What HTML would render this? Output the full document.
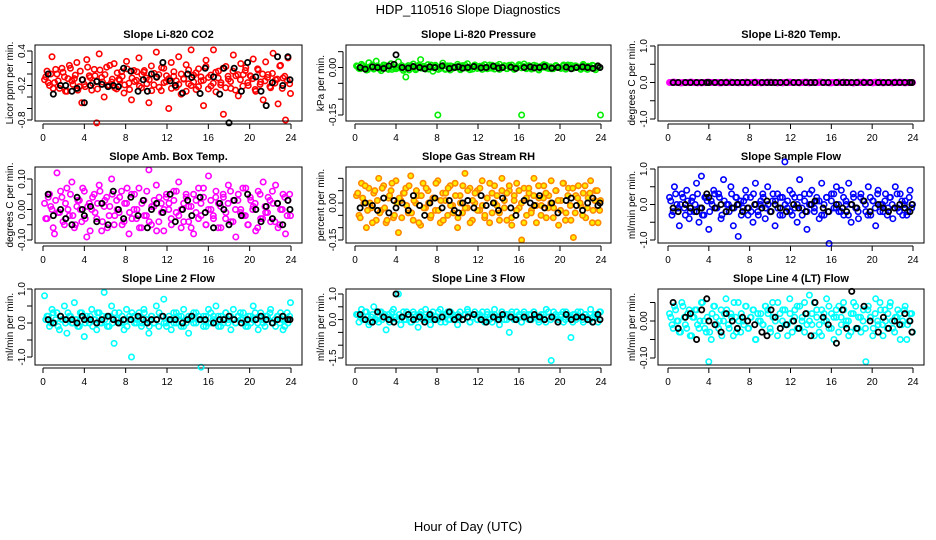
<!DOCTYPE html>
<html><head><meta charset="utf-8"><style>
body{margin:0;background:#fff;}
svg{display:block;font-family:"Liberation Sans",sans-serif;}
</style></head><body>
<svg id="chart" width="936" height="540">
<text x="468" y="14" text-anchor="middle" font-size="13">HDP_110516  Slope Diagnostics</text>
<text x="468" y="531" text-anchor="middle" font-size="13">Hour of Day (UTC)</text>
</svg>
<script>
const blackHours=[0.5,1.0,1.7,2.2,2.8,3.3,3.8,4.0,4.6,5.2,5.7,6.3,6.8,7.3,7.8,8.5,9.2,9.7,10.1,10.5,11.0,11.6,12.3,12.8,13.5,14.0,14.4,15.2,15.7,16.5,17.1,17.5,18.0,18.5,19.2,19.8,20.6,21.1,21.6,22.2,22.7,23.2,23.7,23.9];
const xTicks=[0,4,8,12,16,20,24];
// Panel 1 CO2 (units 0.01)
const co2Vals=[-10,5,-20,30,-15,0,-25,10,-5,-30,15,-12,-8,20,-22,-50,-18,25,-3,-28,8,-85,35,-6,-40,12,-20,-14,18,-26,-9,4,-33,22,-16,-45,6,-11,28,-24,3,-7,-50,14,-19,38,-1,-29,10,-13,-60,20,-4,-23,30,-35,-8,16,-17,42,-2,-27,9,-12,-55,24,-6,-21,42,-31,5,-15,-70,13,-9,-25,33,-3,-38,18,-1,11,-20,-4,26,-30,7,-14,-45,21,-1,-24,36,-10,-52,15,-7,-80,28,-34];
const co2Vals2=[-5,-15,0,-25,8,-12,-20,3,-30,-8,10,-18,-2,-28,5,-10,-22,12,-6,-16,-3,-26,7,-14,-1,-20,15,-9,-24,2,-11,-4,-19,9,-27,-7,-13,4,-21,-1,6,-17,-10,-29,1,-6,-23,11,-15,-3,-8,-25,4,-12,-18,0,-9,-30,7,-20,-14,2,-22,-5,-11,13,-26,-2,-16,3,-7,-19,10,-24,-4,-13,5,-28,-1,-10,-21,6,-15,-3,-8,-27,9,-18,0,-12,-6,-22,1,-16,-9,14,-25,-4,-11,-17];
const co2Black=[0,-35,-20,-20,-30,-25,-10,-50,-20,-13,-18,-22,-20,-22,10,5,-30,-10,-30,0,-5,20,-12,-20,-33,0,-6,-34,10,-5,-35,10,-85,10,-30,20,-5,-30,-55,-15,30,-20,30,-10];
// Panel 2 Pressure (units 0.001)
const presVals=[5,-3,10,0,-8,15,2,-5,20,-2,-10,8,3,-6,12,0,-4,18,1,-9,-30,6,-2,11,-7,4,25,-1,-5,9,2,-12,7,-150,-3,14,-6,5,-8,3,0,10,-4,6,-1,12,-7,2,8,-3,4,-6,9,1,-2,7,-5,3,10,-1,6,-4,2,8,-6,0,5,-150,11,-2,3,-5,7,1,-8,4,9,-1,2,-4,0,6,0,-3,8,-5,3,7,-2,5,1,-6,10,-3,4,-1,6,-7,2,-150];
const presVals2=[3,-4,6,0,-7,2,8,-2,5,-5,1,7,-3,4,-6,9,0,-1,6,-4,2,-8,5,1,-3,7,-2,4,0,-5,8,-1,3,-6,2,6,-4,1,5,-2,0,4,-7,3,7,-3,1,-5,6,2,-1,5,0,-4,8,-2,3,6,-6,1,4,-3,7,0,-5,2,9,-1,3,-4,6,0,-2,5,-6,3,1,7,-3,2,-4,6,0,-1,4,-5,8,2,-2,5,1,-3,6,0,-6,3,7,-2,4,0];
const presBlack=[0,-5,2,0,-3,5,10,40,0,-2,3,0,-4,2,0,5,-3,0,2,-2,0,3,-1,0,4,-2,0,1,-3,0,2,-1,0,3,-2,0,1,-4,0,2,0,-3,5,0];
// Panel 3 Temp (units 0.01)
const tempVals=[0,0,1,0,0,-1,0,0,0,1,0,0,0,-1,0,0,1,0,0,0,0,-1,0,0,0,1,0,0,0,0,0,0,-1,0,0,1,0,0,0,0,1,0,0,0,-1,0,0,0,1,0,0,0,0,-1,0,0,1,0,0,0,0,0,1,0,0,-1,0,0,0,0,0,1,0,0,0,-1,0,0,0,1,0,0,0,0,1,0,0,-1,0,0,0,0,1,0,0,0,-1,0,0,0];
const tempVals2=[0,1,0,0,-1,0,0,0,1,0,0,-1,0,0,0,1,0,0,0,0,-1,0,0,1,0,0,0,0,-1,0,0,1,0,0,0,0,0,-1,0,0,0,1,0,0,0,0,-1,0,0,1,0,0,0,0,0,1,0,-1,0,0,0,1,0,0,0,0,-1,0,0,1,0,0,0,0,0,-1,0,1,0,0,0,0,0,-1,0,0,1,0,0,0,0,-1,0,0,1,0,0,0,0,0];
const tempBlack=[0,0,0,0,0,0,0,0,0,0,0,0,0,0,0,0,0,0,0,0,0,0,0,0,0,0,0,0,0,0,0,0,0,0,0,0,0,0,0,0,0,0,0,0];
// Panel 4 Amb box temp (units 0.01)
const ambVals=[2,-3,5,0,-8,12,-1,4,-5,7,-2,9,-6,1,3,-4,6,-9,2,0,5,-3,8,-7,1,4,-2,10,-5,3,-1,6,-4,2,-8,5,0,-3,7,-6,3,-2,13,-5,1,8,-4,2,-7,4,0,-3,6,-1,9,-6,2,5,-4,1,-8,3,7,-2,4,-5,11,0,-3,6,2,-6,4,-1,8,-4,3,-9,5,0,-2,7,-5,3,1,-7,6,-3,9,-1,4,-4,2,8,-6,0,5,-8,3,-2];
const ambVals2=[-3,4,1,-6,3,-1,6,-4,2,0,5,-2,-5,3,0,7,-3,1,-7,4,-1,2,6,-4,3,-6,1,5,-2,0,4,-5,2,7,-1,-3,5,0,-6,2,-2,6,-4,1,3,-7,4,-1,0,5,2,-5,3,6,-2,0,-4,4,1,-6,5,-1,-3,2,7,-5,0,3,-2,4,-6,1,5,-3,2,6,-4,0,3,-1,7,-2,-5,4,0,2,-6,5,-3,1,-1,3,6,-4,2,-5,0,4,-2,5];
const ambBlack=[5,-2,0,-3,-5,4,0,-2,1,-4,2,-5,6,0,-3,4,-2,3,-6,0,2,-1,5,-4,0,3,-2,4,-1,-6,2,0,-5,3,-2,5,0,-4,1,-3,2,-5,3,0];
// Panel 5 RH (units 0.01)
const rhVals=[3,-5,8,0,-10,6,-2,4,-7,10,-3,7,-8,2,5,-6,9,-12,1,4,6,-4,11,-7,0,3,-9,8,-2,5,-6,2,-3,9,-8,4,1,-5,7,-1,8,-10,3,-4,12,-2,6,-7,0,5,-3,9,-6,2,-8,4,7,-1,-4,10,1,-7,5,-9,3,8,-2,-15,6,-5,4,-3,10,-8,2,-1,7,-6,3,9,-2,5,-9,1,8,-4,6,-7,-14,3,7,-1,4,-6,2,9,-3,5,-8,1];
const rhVals2=[4,-6,2,7,-3,0,-8,5,1,-4,6,-2,-7,3,8,-5,0,2,-6,4,-1,7,-4,1,5,-8,3,-2,6,0,-5,2,8,-3,1,-7,4,6,-1,-4,3,-6,0,7,-2,5,-8,1,4,-3,6,-1,-5,2,8,-4,0,3,-7,5,-2,4,7,-6,1,-3,5,0,-8,2,6,-4,3,-1,7,-5,2,4,-2,0,-6,5,1,-3,8,-7,3,-1,6,-4,2,0,-5,7,-2,4,-8,1,5,-3];
const rhBlack=[-2,0,-1,-3,2,-4,1,-2,0,-3,3,-1,-5,0,2,-2,1,-3,-4,0,1,-2,3,-1,0,-3,2,-2,-5,1,0,-1,3,-2,0,-4,1,2,-1,-3,0,2,-1,0];
// Panel 6 Sample flow (units 0.1)
const sfVals=[2,-3,5,0,-6,3,-1,4,-4,1,-2,6,-5,8,-3,2,-7,1,4,-1,3,-4,7,-2,0,5,-6,2,-9,1,-1,4,-3,2,-5,6,-2,0,3,-4,5,-2,1,-6,3,-3,2,12,-1,4,-3,2,-5,7,-1,3,-7,0,4,-2,1,-4,6,-3,2,-11,3,-1,5,-2,4,-3,0,6,-5,2,-1,-4,3,1,-2,5,-3,1,-6,4,0,-2,3,-1,2,-4,5,-1,3,-3,1,-2,4,0];
const sfVals2=[1,-2,3,-1,0,2,-3,1,-2,2,0,3,-1,-3,2,1,-2,0,3,-1,2,-3,1,0,-2,3,-1,2,0,-3,1,2,-1,-2,3,0,-3,1,2,-1,0,-2,3,1,-1,2,-3,0,1,-2,3,-1,0,2,-3,1,-2,3,0,-1,2,1,-3,0,2,-2,1,3,-1,0,-2,2,1,-3,0,3,-1,-2,2,1,0,-3,2,1,-1,3,-2,0,1,-3,2,0,-1,3,-2,1,0,-3,2,-1];
const sfBlack=[-1,-2,0,-1,-2,-1,3,2,-1,0,-2,-1,0,-2,-1,0,-1,1,-2,0,-1,-2,0,-1,-2,0,1,-1,-2,0,-1,-2,0,-1,1,-2,0,-1,-2,-1,0,-1,-2,0];
// Panel 7 Line 2 flow (units 0.1)
const l2Vals=[8,2,-1,4,0,3,-2,1,5,-3,2,0,6,1,-1,3,-4,2,0,4,1,-2,3,0,9,2,-1,5,-6,1,3,0,-2,4,1,-10,2,0,3,-1,4,1,-3,2,0,5,-1,2,7,0,1,-2,3,0,2,-1,4,1,-3,2,0,3,1,-13,2,-1,4,0,2,5,-1,2,0,3,1,-2,4,0,2,1,3,-1,2,0,5,1,-2,3,0,2,1,4,0,-1,2,3,-2,1,0,6];
const l2Vals2=[1,2,0,3,1,-1,2,1,0,3,2,0,1,-1,3,2,0,1,2,-1,1,3,0,2,1,-1,2,0,3,1,0,2,1,-1,2,3,0,1,2,0,3,1,-1,2,0,1,3,2,0,-1,2,1,0,3,1,2,-1,0,2,1,3,0,2,1,-1,2,0,3,1,0,2,-1,1,3,0,2,1,0,2,3,1,0,-1,2,1,3,0,2,1,-1,2,3,0,1,2,0,1,-1,3,2];
const l2Black=[1,0,2,1,1,0,2,1,1,0,1,2,1,0,1,1,2,1,0,1,1,2,1,1,0,1,2,1,1,0,1,1,2,1,0,1,1,2,1,0,1,2,1,1];
// Panel 8 Line 3 flow (units 0.1)
const l3Vals=[2,-1,4,0,3,-2,1,5,0,-1,3,1,-4,2,0,4,1,10,-2,3,0,2,-1,3,1,-3,2,0,4,1,-2,3,1,0,4,2,-1,3,0,2,1,-2,3,0,2,4,-1,1,3,0,2,1,-1,3,0,2,4,1,-2,3,0,2,-5,3,1,0,2,-1,3,1,2,0,3,1,-1,2,0,4,1,-16,3,1,0,2,-1,3,1,-7,2,0,1,3,-1,2,0,4,1,2,-1,3];
const l3Vals2=[2,1,0,3,1,-1,2,0,1,3,0,2,1,-1,3,1,0,2,1,0,3,1,-1,2,0,2,3,1,0,1,2,0,1,3,-1,1,2,0,3,1,0,2,1,0,2,3,-1,1,2,0,1,3,0,2,1,-1,2,0,1,3,2,0,1,2,0,3,1,-1,2,1,0,2,3,1,0,1,2,-1,3,0,1,2,0,1,3,0,2,1,-1,2,3,1,0,2,1,0,-1,2,1,3];
const l3Black=[2,0,-1,3,1,0,-1,10,1,2,0,1,-1,2,0,1,3,0,1,0,1,2,0,-1,1,0,2,1,0,1,0,2,1,0,1,-1,2,0,1,1,0,-1,2,0];
// Panel 9 Line 4 (LT) flow (units 0.01)
const l4Vals=[2,-1,4,0,-3,5,1,-2,3,-4,1,3,-2,5,0,-3,-11,-5,4,1,-2,3,0,6,-1,2,-4,1,5,-3,0,4,-2,1,3,-5,2,0,-1,4,3,-2,5,1,-4,2,0,3,-1,6,-3,1,4,-2,0,5,-1,7,2,-4,1,-3,3,0,6,-2,2,-5,1,4,-1,3,0,-4,2,5,-2,1,-3,3,-11,4,1,-2,6,-1,3,-4,0,2,5,-2,1,3,-5,0,4,-1,2,-3];
const l4Vals2=[1,-2,3,0,-3,4,-1,2,-4,1,3,-1,0,5,-2,1,-3,2,4,-1,0,-4,2,3,-2,1,5,-3,0,2,-1,4,-2,1,3,-5,0,2,-1,4,2,-3,1,0,5,-2,3,-1,-4,2,0,3,-2,4,1,-3,2,0,-1,5,3,-1,-4,2,0,4,-2,1,3,-3,1,5,-1,0,-3,2,4,-2,1,0,-2,3,1,-4,2,0,5,-1,3,-2,4,0,-3,1,2,-1,3,-5,0,2];
const l4Black=[5,-2,1,2,-5,3,6,0,-1,-3,2,0,-2,1,0,-1,-3,-4,3,1,-2,-1,0,-2,2,-4,5,1,-1,-6,3,-2,8,-2,4,0,-3,1,-2,0,-1,2,0,-3];

const NS='http://www.w3.org/2000/svg';
const svg=document.getElementById('chart');
function mk(tag,attrs,parent){const e=document.createElementNS(NS,tag);for(const k in attrs)e.setAttribute(k,attrs[k]);(parent||svg).appendChild(e);return e;}
const cols=[{bx:35,bw:267,x0:43,x24:291,yl:13,tl:25},{bx:346,bw:265,x0:355,x24:601,yl:324,tl:336},{bx:658,bw:266,x0:668,x24:913,yl:635,tl:647}];
const rows=[{by:45,bh:76},{by:167,bh:76},{by:289,bh:76}];
const panels=[
 {name:'co2',title:'Slope Li-820 CO2',ylab:'Licor ppm per min.',c:0,r:0,vals:co2Vals,vals2:co2Vals2,blk:co2Black,unit:0.01,v1:0.4,p1:51,v2:-0.8,p2:120,ticks:[0.4,0.2,0,-0.2,-0.4,-0.6,-0.8],labels:{'0.4':'0.4','-0.2':'-0.2','-0.8':'-0.8'},col:'#ff0000',fill:'none'},
 {name:'pressure',title:'Slope Li-820 Pressure',ylab:'kPa per min.',c:1,r:0,vals:presVals,vals2:presVals2,blk:presBlack,unit:0.001,v1:0,p1:67.5,v2:-0.15,p2:115,ticks:[0.05,0,-0.05,-0.1,-0.15],labels:{'0':'0.00','-0.15':'-0.15'},col:'#00ee00',fill:'none'},
 {name:'temp',title:'Slope Li-820 Temp.',ylab:'degrees C per min.',c:2,r:0,vals:tempVals,vals2:tempVals2,blk:tempBlack,unit:0.01,v1:1,p1:46,v2:-1,p2:119,ticks:[1,0.5,0,-0.5,-1],labels:{'1':'1.0','0':'0.0','-1':'-1.0'},col:'#ff00ff',fill:'none'},
 {name:'amb-temp',title:'Slope Amb. Box Temp.',ylab:'degrees C per min.',c:0,r:1,vals:ambVals,vals2:ambVals2,blk:ambBlack,unit:0.01,v1:0.1,p1:179,v2:-0.1,p2:240,ticks:[0.1,0.05,0,-0.05,-0.1],labels:{'0.1':'0.10','0':'0.00','-0.1':'-0.10'},col:'#ff00ff',fill:'none'},
 {name:'rh',title:'Slope Gas Stream RH',ylab:'percent per min.',c:1,r:1,vals:rhVals,vals2:rhVals2,blk:rhBlack,unit:0.01,v1:0,p1:203,v2:-0.15,p2:240,ticks:[0.1,0.05,0,-0.05,-0.1,-0.15],labels:{'0':'0.00','-0.15':'-0.15'},col:'#ff8800',fill:'#ffee00'},
 {name:'sample-flow',title:'Slope Sample Flow',ylab:'ml/min per min.',c:2,r:1,vals:sfVals,vals2:sfVals2,blk:sfBlack,unit:0.1,v1:1,p1:169,v2:-1,p2:240,ticks:[1,0.5,0,-0.5,-1],labels:{'1':'1.0','0':'0.0','-1':'-1.0'},col:'#0000ff',fill:'none'},
 {name:'line2-flow',title:'Slope Line 2 Flow',ylab:'ml/min per min.',c:0,r:2,vals:l2Vals,vals2:l2Vals2,blk:l2Black,unit:0.1,v1:1,p1:289,v2:-1,p2:357,ticks:[1,0.5,0,-0.5,-1],labels:{'1':'1.0','0':'0.0','-1':'-1.0'},col:'#00ffff',fill:'none'},
 {name:'line3-flow',title:'Slope Line 3 Flow',ylab:'ml/min per min.',c:1,r:2,vals:l3Vals,vals2:l3Vals2,blk:l3Black,unit:0.1,v1:1,p1:294,v2:-1.5,p2:358,ticks:[1,0.5,0,-0.5,-1,-1.5],labels:{'1':'1.0','0':'0.0','-1.5':'-1.5'},col:'#00ffff',fill:'none'},
 {name:'line4-flow',title:'Slope Line 4 (LT) Flow',ylab:'ml/min per min.',c:2,r:2,vals:l4Vals,vals2:l4Vals2,blk:l4Black,unit:0.01,v1:0,p1:321,v2:-0.1,p2:358,ticks:[0.05,0,-0.05,-0.1],labels:{'0':'0.00','-0.1':'-0.10'},col:'#00ffff',fill:'none'}
];
panels.forEach(p=>{
 const C=cols[p.c],R=rows[p.r];
 const g=mk('g',{});
 
 
 const xs=h=>C.x0+(C.x24-C.x0)*h/24;
 const ys=v=>p.p1+(v-p.v1)*(p.p2-p.p1)/(p.v2-p.v1);
 const t=mk('text',{x:C.bx+C.bw/2,y:R.by-7,'text-anchor':'middle','font-size':'11','font-weight':'bold'},g);
 t.textContent=p.title;
 
 
 const yl=mk('text',{x:0,y:0,transform:`translate(${C.yl},${R.by+R.bh/2}) rotate(-90)`,'text-anchor':'middle','font-size':'10'},g);
 yl.textContent=p.ylab;
 
 
 const xa=mk('g',{stroke:'#000','stroke-width':'1'},g);
 
 
 const ax=R.by+R.bh+3;
 mk('line',{x1:xs(0),x2:xs(24),y1:ax,y2:ax},xa);
 xTicks.forEach(h=>{
  mk('line',{x1:xs(h),x2:xs(h),y1:ax,y2:ax+5},xa);
  const tl=mk('text',{x:xs(h),y:ax+17,'text-anchor':'middle','font-size':'10',stroke:'none'},g);
  tl.textContent=h;
  
  
 });
 const ya=mk('g',{stroke:'#000','stroke-width':'1'},g);
 
 
 const yx=C.bx-3;
 mk('line',{x1:yx,x2:yx,y1:ys(p.ticks[0]),y2:ys(p.ticks[p.ticks.length-1])},ya);
 p.ticks.forEach(v=>{
  mk('line',{x1:yx,x2:yx-5,y1:ys(v),y2:ys(v)},ya);
  const key=String(v);
  if(p.labels[key]!==undefined){
   const tl=mk('text',{x:0,y:0,transform:`translate(${C.tl},${ys(v)}) rotate(-90)`,'text-anchor':'middle','font-size':'10'},g);
   tl.textContent=p.labels[key];
   
   
  }
 });
 const pts=mk('g',{fill:p.fill,stroke:p.col,'stroke-width':'1.6'},g);
 
 
 const n=p.vals.length;
 p.vals.forEach((v,i)=>{
  const h=0.15+i*23.8/(n-1);
  const c=mk('circle',{cx:xs(h),cy:ys(v*p.unit),r:2.7},pts);
  
  
 });
 const n2=p.vals2.length;
 p.vals2.forEach((v,i)=>{
  const h=0.27+i*23.6/(n2-1);
  const c=mk('circle',{cx:xs(h),cy:ys(v*p.unit),r:2.7},pts);
  
  
 });
 const bk=mk('g',{fill:'none',stroke:'#000','stroke-width':'1.8'},g);
 
 
 p.blk.forEach((v,i)=>{
  const c=mk('circle',{cx:xs(blackHours[i]),cy:ys(v*p.unit),r:2.6},bk);
  
  
 });
 const box=mk('rect',{x:C.bx,y:R.by,width:C.bw,height:R.bh,fill:'none',stroke:'#000','stroke-width':'1'},g);
 
 
});
</script>
</body></html>
